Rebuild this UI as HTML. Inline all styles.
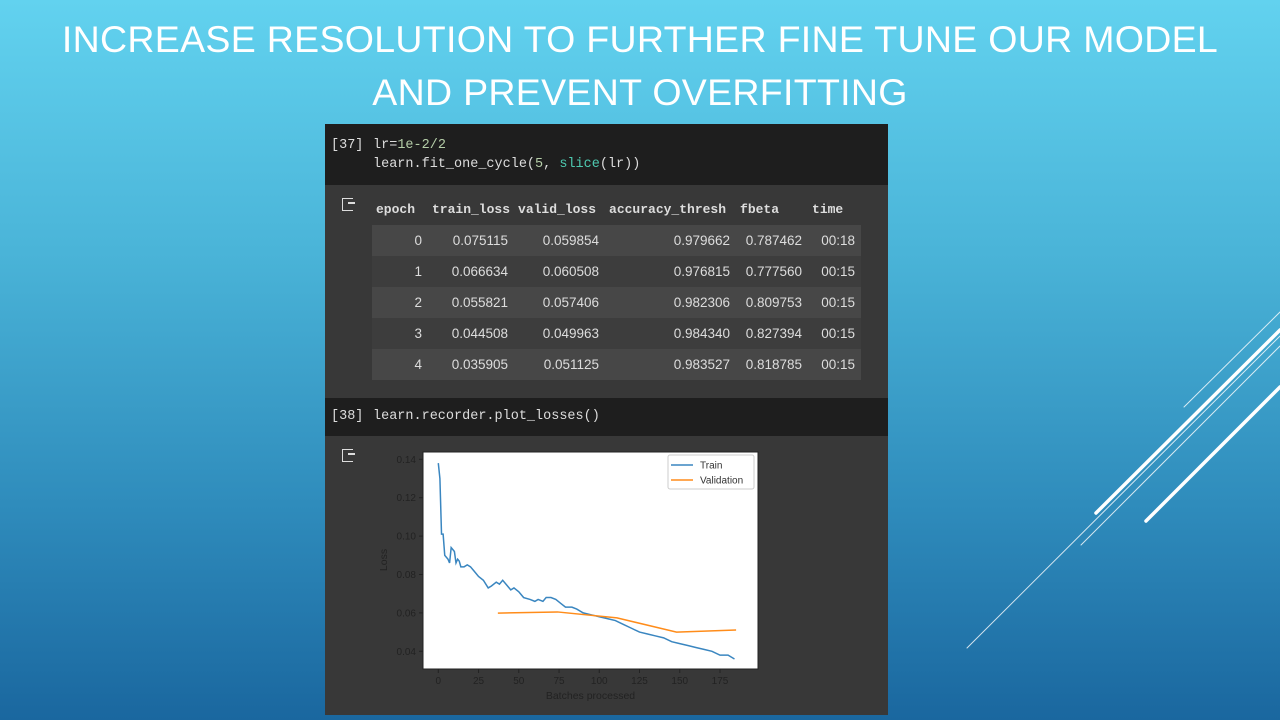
<!DOCTYPE html>
<html><head><meta charset="utf-8">
<style>
*{margin:0;padding:0;box-sizing:border-box}
body{width:1280px;height:720px;overflow:hidden;position:relative;font-family:"Liberation Sans",sans-serif;
background:linear-gradient(180deg,#62d2ef 0%,#4ab4d8 35%,#2f8cbc 70%,#1a679f 100%)}
.title{position:absolute;left:0;width:1280px;text-align:center;color:#fff;font-size:37.5px;line-height:53px;top:13px;font-weight:normal;letter-spacing:0.3px}
.nb{position:absolute;left:325px;top:124px;width:563px;height:591px;background:#383838}
.code{position:absolute;left:0;width:563px;background:#1e1e1e;font-family:"Liberation Mono",monospace;font-size:13.5px;color:#ddd}
table{position:absolute;left:47px;top:69px;border-collapse:collapse;color:#ddd;font-size:13.5px;table-layout:fixed}
th{font-family:"Liberation Mono",monospace;font-weight:bold;height:32px;padding:0 4px;text-align:left;font-size:13px}
td{height:31px;text-align:right;padding:0 6px 0 4px}
tr.o td{background:#474747}
tr.e td{background:#3d3d3d}
.icon{position:absolute;width:11px;height:13px;border:1.5px solid #ddd;border-right:none}
.icon:after{content:"";position:absolute;left:5px;top:3px;width:7px;height:1.5px;background:#ddd}
</style></head><body>
<div class="title">INCREASE RESOLUTION TO FURTHER FINE TUNE OUR MODEL<br>AND PREVENT OVERFITTING</div>
<svg width="1280" height="720" style="position:absolute;left:0;top:0">
<g stroke="#fff" stroke-linecap="round">
<line x1="1184" y1="407" x2="1280" y2="312" stroke-width="1" opacity="0.8"/>
<line x1="1096" y1="513" x2="1280" y2="330" stroke-width="3.5"/>
<line x1="967" y1="648" x2="1280" y2="336" stroke-width="1" opacity="0.8"/>
<line x1="1081" y1="545" x2="1280" y2="346" stroke-width="1" opacity="0.8"/>
<line x1="1146" y1="521" x2="1280" y2="387" stroke-width="3.5"/>
</g></svg>
<div class="nb">
 <div class="code" style="top:0;height:61px">
  <div style="position:absolute;left:6px;top:14px">[37]</div>
  <div style="position:absolute;left:48px;top:14px">lr=<span style="color:#b5cea8">1e-2/2</span></div>
  <div style="position:absolute;left:48px;top:33px">learn.fit_one_cycle(<span style="color:#b5cea8">5</span>, <span style="color:#4ec9b0">slice</span>(lr))</div>
 </div>
 <div class="icon" style="left:17px;top:74px"></div>
 <table>
  <colgroup><col style="width:56px"><col style="width:85px"><col style="width:91px"><col style="width:131px"><col style="width:72px"><col style="width:53px"></colgroup>
  <tr><th>epoch</th><th>train_loss</th><th>valid_loss</th><th>accuracy_thresh</th><th>fbeta</th><th>time</th></tr>
  <tr class="o"><td>0</td><td>0.075115</td><td>0.059854</td><td>0.979662</td><td>0.787462</td><td>00:18</td></tr>
  <tr class="e"><td>1</td><td>0.066634</td><td>0.060508</td><td>0.976815</td><td>0.777560</td><td>00:15</td></tr>
  <tr class="o"><td>2</td><td>0.055821</td><td>0.057406</td><td>0.982306</td><td>0.809753</td><td>00:15</td></tr>
  <tr class="e"><td>3</td><td>0.044508</td><td>0.049963</td><td>0.984340</td><td>0.827394</td><td>00:15</td></tr>
  <tr class="o"><td>4</td><td>0.035905</td><td>0.051125</td><td>0.983527</td><td>0.818785</td><td>00:15</td></tr>
 </table>
 <div class="code" style="top:274px;height:38px">
  <div style="position:absolute;left:6px;top:11px">[38]</div>
  <div style="position:absolute;left:48px;top:11px">learn.recorder.plot_losses()</div>
 </div>
 <div class="icon" style="left:17px;top:325px"></div>
</div>
<svg id="chart" width="1280" height="720" style="position:absolute;left:0;top:0"></svg>
<script>
const trainX=[0,1,2,3,4,5,6,7,8,9,10,11,12,13,14,16,18,20,22,25,28,31,33,36,38,40,43,45,47,50,53,57,60,62,65,67,70,73,76,79,83,86,90,95,100,105,110,115,120,125,130,135,140,145,150,155,160,165,170,175,180,184];
const trainY=[0.138,0.130,0.101,0.101,0.090,0.089,0.088,0.086,0.094,0.093,0.092,0.086,0.088,0.087,0.084,0.084,0.085,0.084,0.082,0.079,0.077,0.073,0.074,0.076,0.075,0.077,0.074,0.072,0.073,0.071,0.068,0.067,0.066,0.067,0.066,0.068,0.068,0.067,0.065,0.063,0.063,0.062,0.060,0.059,0.058,0.057,0.056,0.054,0.052,0.050,0.049,0.048,0.047,0.045,0.044,0.043,0.042,0.041,0.040,0.038,0.038,0.036];
const validX=[37,74,111,148,185];
const validY=[0.0599,0.0605,0.0574,0.0500,0.0511];
const xTicks=[0,25,50,75,100,125,150,175];
const yTicks=[0.04,0.06,0.08,0.10,0.12,0.14];
const NS='http://www.w3.org/2000/svg';
const svg=document.getElementById('chart');
const L=423,R=758,T=452,B=669;
function sx(v){return 438.3+v*(281.7/175);}
function sy(v){return 651.3-(v-0.04)*(192/0.10);}
function mk(t,a){const e=document.createElementNS(NS,t);for(const k in a)e.setAttribute(k,a[k]);svg.appendChild(e);return e;}
let bg=mk('rect',{x:L,y:T,width:R-L,height:B-T,fill:'#fff',stroke:'#222','stroke-width':1});


xTicks.forEach(v=>{
 mk('line',{x1:sx(v),x2:sx(v),y1:B,y2:B+4,stroke:'#222'});
 const t=mk('text',{x:sx(v),y:B+15,'text-anchor':'middle','font-size':10,fill:'#222','font-family':'Liberation Sans'});
 t.textContent=v;
 
 
});
yTicks.forEach(v=>{
 mk('line',{x1:L-4,x2:L,y1:sy(v),y2:sy(v),stroke:'#222'});
 const t=mk('text',{x:L-7,y:sy(v)+3.5,'text-anchor':'end','font-size':10,fill:'#222','font-family':'Liberation Sans'});
 t.textContent=v.toFixed(2);
 
 
});
let xl=mk('text',{x:(L+R)/2,y:699,'text-anchor':'middle','font-size':10.5,fill:'#222','font-family':'Liberation Sans'});
xl.textContent='Batches processed';


let yl=mk('text',{x:0,y:0,'text-anchor':'middle','font-size':10.5,fill:'#222','font-family':'Liberation Sans',transform:'translate(387,560) rotate(-90)'});
yl.textContent='Loss';


let tp=mk('polyline',{points:trainX.map((x,i)=>sx(x)+','+sy(trainY[i])).join(' '),fill:'none',stroke:'#3a86c0','stroke-width':1.5});


let vp=mk('polyline',{points:validX.map((x,i)=>sx(x)+','+sy(validY[i])).join(' '),fill:'none',stroke:'#ff8c1a','stroke-width':1.5});


let lg=mk('rect',{x:668,y:455,width:86,height:34,fill:'#fff',stroke:'#ccc',rx:2});


[['Train','#3a86c0',465],['Validation','#ff8c1a',480]].forEach(d=>{
 mk('line',{x1:671,x2:693,y1:d[2],y2:d[2],stroke:d[1],'stroke-width':1.5});
 const t=mk('text',{x:700,y:d[2]+3.5,'font-size':10,fill:'#333','font-family':'Liberation Sans'});
 t.textContent=d[0];
 
 
});
</script>
</body></html>
